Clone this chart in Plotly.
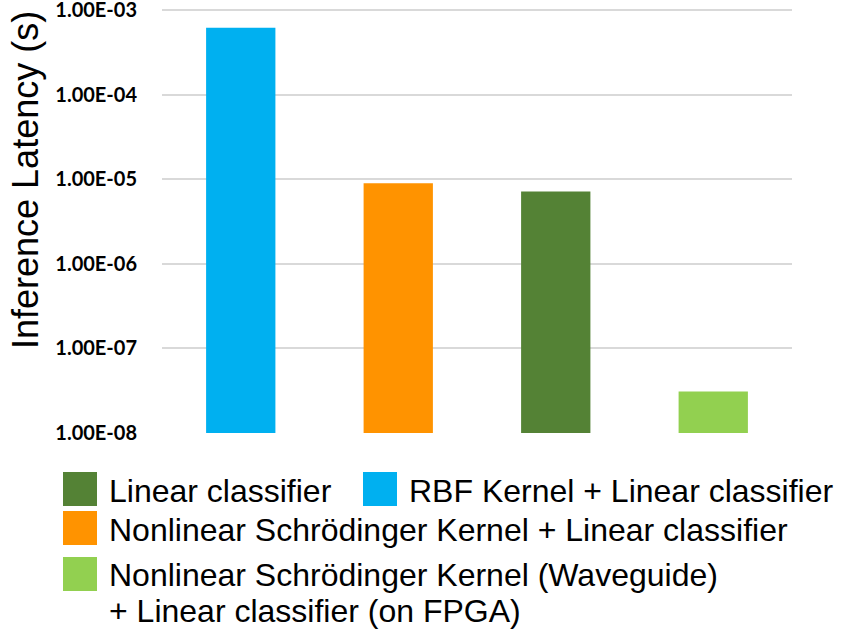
import plotly.graph_objects as go

# Inference latency (seconds) per model, in bar order along the x axis
models = [
    "RBF Kernel + Linear classifier",
    "Nonlinear Schrödinger Kernel + Linear classifier",
    "Linear classifier",
    "Nonlinear Schrödinger Kernel (Waveguide)<br>+ Linear classifier (on FPGA)",
]
latency_s = [6.2e-4, 9.0e-6, 7.2e-6, 3.1e-8]
colors = ["#00B0F0", "#FF9300", "#548235", "#92D050"]

# Legend order (rows below the chart)
legend_order = [2, 0, 1, 3]

tick_vals = [1e-8, 1e-7, 1e-6, 1e-5, 1e-4, 1e-3]
tick_text = ["1.00E-08", "1.00E-07", "1.00E-06", "1.00E-05", "1.00E-04", "1.00E-03"]

W, H = 842, 637
M_L, M_R, M_T, M_B = 162, 50, 9, 204
plot_w = W - M_L - M_R
plot_h = H - M_T - M_B


def px_to_paper(px, py):
    return (px - M_L) / plot_w, (H - M_B - py) / plot_h


fig = go.Figure()
fig.add_trace(
    go.Bar(
        x=list(range(len(models))),
        y=latency_s,
        marker=dict(color=colors, line=dict(width=0)),
        width=0.44,
        hovertext=models,
        showlegend=False,
    )
)

# Legend: coloured squares with labels, laid out in rows under the plot
legend_slots = [
    # (swatch left px, swatch top px, text left px, [text line centre px])
    (63, 472, 107, [491]),
    (363, 472, 407, [491]),
    (63, 511, 107, [530]),
    (63, 557, 107, [575, 611]),
]
swatch = 34
shapes = []
annotations = []
for slot, idx in zip(legend_slots, legend_order):
    sx, sy, tx, lines = slot
    x0, y0 = px_to_paper(sx, sy + swatch)
    x1, y1 = px_to_paper(sx + swatch, sy)
    shapes.append(
        dict(type="rect", xref="paper", yref="paper", x0=x0, x1=x1, y0=y0, y1=y1,
             fillcolor=colors[idx], line=dict(width=0), layer="above")
    )
    for text, cy in zip(models[idx].split("<br>"), lines):
        ax, ay = px_to_paper(tx, cy)
        annotations.append(
            dict(text=text, xref="paper", yref="paper", x=ax, y=ay,
                 xanchor="left", yanchor="middle", showarrow=False,
                 font=dict(family="Liberation Sans, Arial", size=32, color="#000000"))
        )

# Y-axis title
tx, ty = px_to_paper(25, 180)
annotations.append(
    dict(text="Inference Latency (s)", xref="paper", yref="paper", x=tx, y=ty,
         xanchor="center", yanchor="middle", textangle=-90, showarrow=False,
         font=dict(family="Liberation Sans, Arial", size=36, color="#000000"))
)

fig.update_layout(
    width=W,
    height=H,
    margin=dict(l=M_L, r=M_R, t=M_T, b=M_B, autoexpand=False),
    paper_bgcolor="white",
    plot_bgcolor="white",
    showlegend=False,
    shapes=shapes,
    annotations=annotations,
    xaxis=dict(
        range=[-0.5, len(models) - 0.5],
        showticklabels=False,
        showgrid=False,
        zeroline=False,
        showline=False,
        ticks="",
        fixedrange=True,
        automargin=False,
    ),
    yaxis=dict(
        type="log",
        range=[-8, -2.985],
        tickvals=tick_vals,
        ticktext=tick_text,
        showgrid=True,
        gridcolor="#D9D9D9",
        gridwidth=1.5,
        zeroline=False,
        showline=False,
        ticks="",
        ticklabelstandoff=24,
        ticklabeloverflow="allow",
        automargin=False,
        tickfont=dict(family="Lato", size=20, color="#000000", weight="bold"),
    ),
)

fig.write_html("out.html")
